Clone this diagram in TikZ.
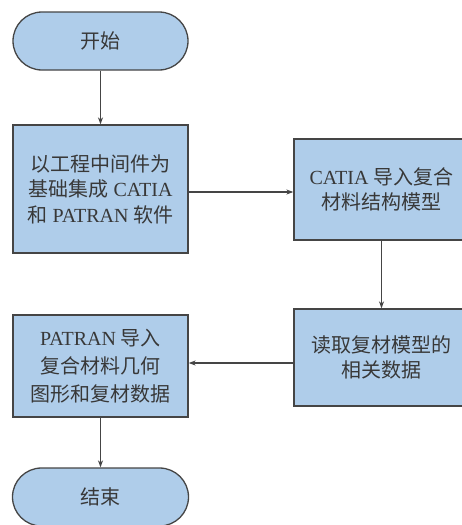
\documentclass[tikz,border=0pt]{standalone}
\usepackage{fontspec}
\setmainfont{Liberation Serif}
\newfontfamily\cjk{Noto Sans CJK SC}
\usetikzlibrary{arrows.meta}
\definecolor{boxfill}{HTML}{AFCDEA}
\definecolor{boxline}{HTML}{454545}
\definecolor{txt}{HTML}{383838}
\newcommand{\zh}[1]{{\cjk #1}}
\begin{document}
\begin{tikzpicture}[x=1pt,y=-1pt,
  base/.style={draw=boxline,fill=boxfill,line width=1.3pt,text=txt,align=center,
    inner sep=0pt,font=\fontsize{20pt}{25.5pt}\selectfont},
  stepbox/.style={base,rectangle,minimum width=175pt},
  termbox/.style={base,rectangle,rounded corners=29pt,minimum width=175pt,minimum height=58pt},
  arr/.style={draw=boxline,line width=1.2pt,-{Stealth[length=7pt,width=5pt]}}]
\useasboundingbox (0,0) rectangle (461,525);
\node[termbox] (start) at (100.5,41) {\zh{开始}};
\node[stepbox,minimum height=128pt] (b1) at (100.5,189)
  {\zh{以工程中间件为}\\\zh{基础集成} CATIA\\\zh{和} PATRAN \zh{软件}};
\node[stepbox,minimum height=101pt] (b2) at (381.5,189.5)
  {CATIA \zh{导入复合}\\\zh{材料结构模型}};
\node[stepbox,minimum height=97pt] (b3) at (381.5,357.5)
  {\zh{读取复材模型的}\\\zh{相关数据}};
\node[stepbox,minimum height=102pt,font=\fontsize{20pt}{28pt}\selectfont] (b4) at (100.5,366)
  {PATRAN \zh{导入}\\\zh{复合材料几何}\\\zh{图形和复材数据}};
\node[termbox,minimum width=176pt] (end) at (100.5,497) {\zh{结束}};
\coordinate (ya) at (0,192);
\coordinate (yb) at (0,363);
\draw[arr] (start) -- (b1);
\draw[arr] (b1.east |- ya) -- (b2.west |- ya);
\draw[arr] (b2) -- (b3);
\draw[arr] (b3.west |- yb) -- (b4.east |- yb);
\draw[arr] (b4) -- (end);
\end{tikzpicture}
\end{document}
